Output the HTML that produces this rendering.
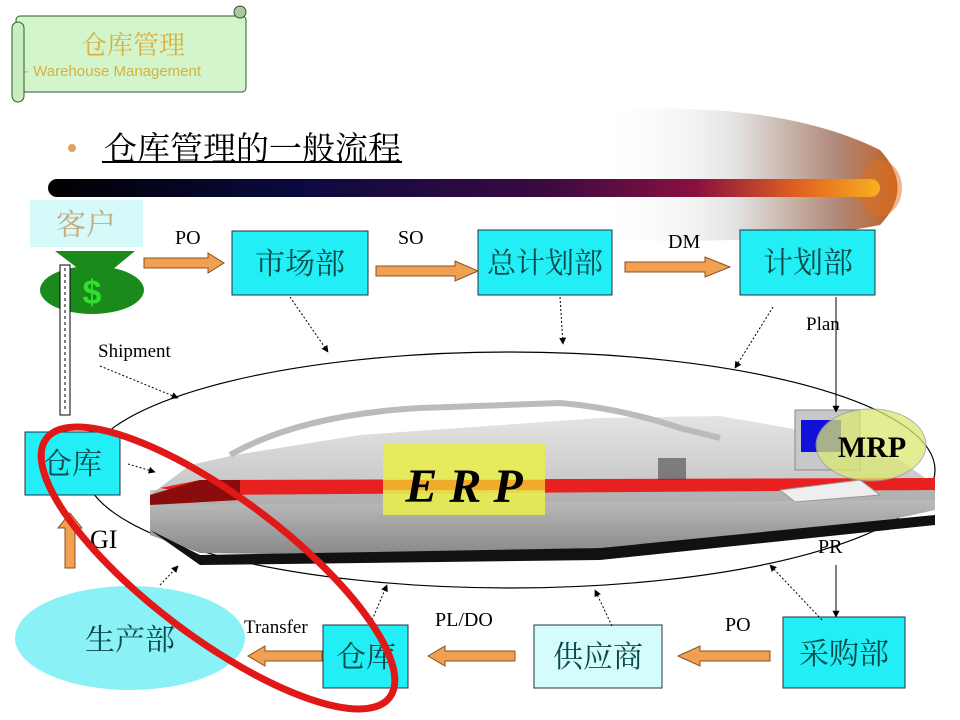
<!DOCTYPE html>
<html><head><meta charset="utf-8"><style>
body{margin:0;background:#fff;overflow:hidden}
svg{display:block}
.cn{font-family:"Liberation Serif","Noto Serif CJK SC","Noto Sans CJK SC",serif}
.lt{font-family:"Liberation Serif",serif}
</style></head><body>
<svg width="960" height="720" viewBox="0 0 960 720" xmlns="http://www.w3.org/2000/svg">
<defs>
<linearGradient id="bar" x1="0" x2="1">
<stop offset="0" stop-color="#000"/><stop offset="0.3" stop-color="#0a0a40"/>
<stop offset="0.6" stop-color="#3a0a40"/><stop offset="0.78" stop-color="#8a1040"/>
<stop offset="0.9" stop-color="#e06020"/><stop offset="1" stop-color="#f8b020"/>
</linearGradient>
<linearGradient id="glow" x1="0" x2="1">
<stop offset="0" stop-color="#fff" stop-opacity="0"/><stop offset="0.45" stop-color="#e4e4e4"/>
<stop offset="0.8" stop-color="#b08878"/><stop offset="1" stop-color="#c06020"/>
</linearGradient>
<linearGradient id="train" x1="0" y1="0" x2="0" y2="1">
<stop offset="0" stop-color="#e4e4e4"/><stop offset="0.5" stop-color="#c8c8c8"/><stop offset="1" stop-color="#888"/>
</linearGradient>
<marker id="ah" viewBox="0 0 10 10" refX="9" refY="5" markerWidth="7" markerHeight="7" orient="auto"><path d="M0,0L10,5L0,10z" fill="#000"/></marker>
</defs>

<!-- scroll banner -->
<rect x="16" y="16" width="230" height="76" rx="4" fill="#d2f5cc" stroke="#2a5a2a" stroke-width="1"/>
<rect x="12" y="22" width="12" height="80" rx="6" fill="#c8eec0" stroke="#2a5a2a"/>
<circle cx="240" cy="12" r="6" fill="#a8c8a0" stroke="#2a5a2a"/>
<text x="133" y="54" text-anchor="middle" class="cn" font-size="26" fill="#d8b040">仓库管理</text>
<text x="24" y="76" font-family="Liberation Sans,sans-serif" font-size="15" fill="#d8b040">- Warehouse Management</text>

<!-- title -->
<circle cx="72" cy="148" r="4" fill="#e0a060"/>
<text x="104" y="160" class="cn" font-size="33" fill="#000">仓库管理的一般流程</text>
<rect x="102" y="161" width="300" height="2" fill="#000"/>

<!-- glow + bar -->
<path d="M600,110 Q780,100 880,150 Q915,188 880,225 Q780,245 600,240 Z" fill="url(#glow)"/>
<ellipse cx="880" cy="188" rx="22" ry="28" fill="#e07020" opacity="0.5"/>
<rect x="48" y="179" width="832" height="18" rx="9" fill="url(#bar)"/>

<!-- big ellipse -->
<ellipse cx="510" cy="470" rx="425" ry="118" fill="none" stroke="#000" stroke-width="1.2"/>

<!-- train -->
<path d="M150,495 L190,465 L235,455 L360,435 L600,418 L720,416 L800,430 L900,460 L935,485 L935,510 L890,520 L600,548 L350,555 L200,553 L150,535 Z" fill="url(#train)"/>
<path d="M230,455 Q300,415 420,408 L560,403 Q620,408 680,428 L720,438" fill="none" stroke="#bbb" stroke-width="6"/>
<path d="M150,530 L200,555 L600,548 L935,515 L935,525 L600,560 L200,565 Z" fill="#111"/>
<path d="M150,490 L935,480 L935,500 L150,505 Z" fill="#aaa" opacity="0.6"/>
<path d="M160,488 L200,480 L935,478 L935,490 L200,495 Z" fill="#e82020"/>
<path d="M150,495 L200,480 L240,480 L240,500 L150,505 Z" fill="#8a0c0c"/>
<rect x="658" y="458" width="28" height="22" fill="#444" opacity="0.6"/>

<!-- ERP -->
<rect x="383" y="443" width="162" height="72" fill="#e8ec50" opacity="0.9"/>
<rect x="383" y="480" width="162" height="10" fill="#f0a020" opacity="0.8"/>
<text x="464" y="502" text-anchor="middle" font-family="Liberation Serif,serif" font-style="italic" font-weight="bold" font-size="48">E R P</text>

<!-- MRP -->
<rect x="795" y="410" width="65" height="60" fill="#c8c8c8" stroke="#888"/>
<rect x="801" y="420" width="40" height="32" fill="#1010d8"/>
<path d="M780,490 L860,480 L880,495 L795,502 Z" fill="#eee" stroke="#999"/>
<ellipse cx="871" cy="445" rx="55" ry="36" fill="#dbe870" opacity="0.75" stroke="#999"/>
<text x="872" y="457" text-anchor="middle" class="lt" font-weight="bold" font-size="30">MRP</text>

<!-- customer -->
<rect x="30" y="200" width="113" height="47" fill="#d4fafa"/>
<text x="86" y="235" text-anchor="middle" class="cn" font-size="30" fill="#c8a880">客户</text>
<path d="M55,251 L135,251 L112,270 L80,270 Z" fill="#1a8a1a"/>
<ellipse cx="92" cy="290" rx="52" ry="24" fill="#1a8a1a"/>
<text x="92" y="304" text-anchor="middle" font-family="Liberation Sans,sans-serif" font-weight="bold" font-size="34" fill="#30e030">$</text>
<rect x="60" y="265" width="10" height="150" fill="#fff" stroke="#000" stroke-width="1"/>
<line x1="65" y1="268" x2="65" y2="410" stroke="#000" stroke-dasharray="3,3"/>

<!-- boxes -->
<g class="cn" font-size="30" fill="#0a4a4a" text-anchor="middle">
<rect x="232" y="231" width="136" height="64" fill="#22eef5" stroke="#234"/>
<text x="300" y="274">市场部</text>
<rect x="478" y="230" width="134" height="65" fill="#22eef5" stroke="#234"/>
<text x="545" y="273" font-size="29">总计划部</text>
<rect x="740" y="230" width="135" height="65" fill="#22eef5" stroke="#234"/>
<text x="808" y="273">计划部</text>
<rect x="25" y="432" width="95" height="63" fill="#22eef5" stroke="#234"/>
<text x="72" y="474">仓库</text>
<rect x="323" y="625" width="85" height="63" fill="#22eef5" stroke="#234"/>
<text x="366" y="667">仓库</text>
<rect x="534" y="625" width="128" height="63" fill="#d4fcfc" stroke="#234"/>
<text x="598" y="667">供应商</text>
<rect x="783" y="617" width="122" height="71" fill="#22eef5" stroke="#234"/>
<text x="844" y="664">采购部</text>
<ellipse cx="130" cy="638" rx="115" ry="52" fill="#8af2f6"/>
<text x="130" y="650">生产部</text>
</g>

<!-- orange arrows -->
<g fill="#f0a050" stroke="#8a5020" stroke-width="1">
<path d="M144,258 L208,258 L208,253 L224,263 L208,273 L208,268 L144,268 Z"/>
<path d="M376,266 L455,266 L455,261 L478,271 L455,281 L455,276 L376,276 Z"/>
<path d="M625,262 L705,262 L705,257 L730,267 L705,277 L705,272 L625,272 Z"/>
<path d="M322,651 L265,651 L265,646 L248,656 L265,666 L265,661 L322,661 Z"/>
<path d="M515,651 L445,651 L445,646 L428,656 L445,666 L445,661 L515,661 Z"/>
<path d="M770,651 L700,651 L700,646 L678,656 L700,666 L700,661 L770,661 Z"/>
<path d="M65,568 L65,528 L58,528 L70,513 L82,528 L75,528 L75,568 Z"/>
</g>

<!-- labels -->
<g class="lt" font-size="20" fill="#000">
<text x="175" y="244">PO</text>
<text x="398" y="244">SO</text>
<text x="668" y="248">DM</text>
<text x="806" y="330" font-size="19">Plan</text>
<text x="98" y="357" font-size="19">Shipment</text>
<text x="90" y="548" font-size="26">GI</text>
<text x="244" y="633" font-size="19">Transfer</text>
<text x="435" y="626">PL/DO</text>
<text x="725" y="631">PO</text>
<text x="818" y="553">PR</text>
</g>

<!-- connectors -->
<g stroke="#000" stroke-width="1" fill="none" marker-end="url(#ah)">
<line x1="290" y1="297" x2="328" y2="352" stroke-dasharray="2,2"/>
<line x1="560" y1="297" x2="563" y2="344" stroke-dasharray="2,2"/>
<line x1="773" y1="307" x2="735" y2="368" stroke-dasharray="2,2"/>
<line x1="836" y1="297" x2="836" y2="412"/>
<line x1="836" y1="565" x2="836" y2="617"/>
<line x1="100" y1="366" x2="178" y2="398" stroke-dasharray="2,2"/>
<line x1="128" y1="464" x2="155" y2="472" stroke-dasharray="2,2"/>
<line x1="160" y1="585" x2="178" y2="566" stroke-dasharray="2,2"/>
<line x1="372" y1="620" x2="387" y2="585" stroke-dasharray="2,2"/>
<line x1="612" y1="626" x2="595" y2="590" stroke-dasharray="2,2"/>
<line x1="822" y1="620" x2="770" y2="565" stroke-dasharray="2,2"/>
</g>

<!-- red ellipse -->
<ellipse cx="218" cy="568" rx="215" ry="70" transform="rotate(37 218 568)" fill="none" stroke="#e01818" stroke-width="7"/>
</svg>
</body></html>
